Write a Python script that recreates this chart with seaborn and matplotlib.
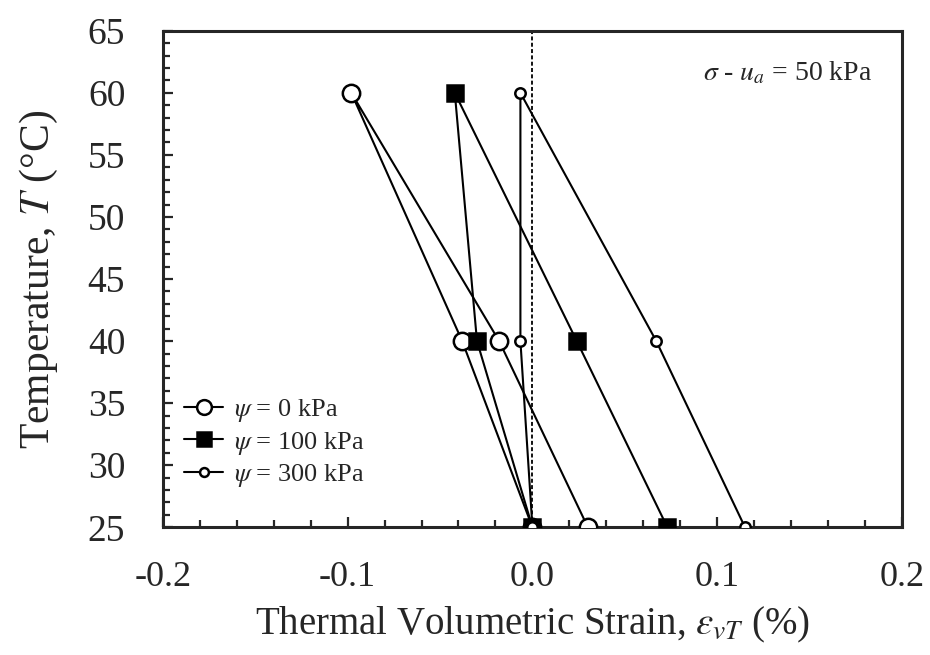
import pandas as pd
import numpy as np
import matplotlib
matplotlib.use("Agg")
import matplotlib.pyplot as plt
import seaborn as sns
from matplotlib.ticker import MultipleLocator, FormatStrFormatter

# Data: heating 25 -> 40 -> 60, then cooling 60 -> 40 -> 25
temp_path = [25, 40, 60, 40, 25]
strain_psi0 = [0.000, -0.038, -0.098, -0.018, 0.030]
strain_psi100 = [0.000, -0.030, -0.042, 0.024, 0.073]
strain_psi300 = [0.000, -0.0065, -0.0065, 0.067, 0.115]
series_labels = [r"$\psi$ = 0 kPa", r"$\psi$ = 100 kPa", r"$\psi$ = 300 kPa"]

sns.set_style("ticks")
plt.rcParams["font.family"] = ["Liberation Serif", "DejaVu Serif"]
plt.rcParams["mathtext.fontset"] = "stix"
plt.rcParams["axes.unicode_minus"] = False

fig = plt.figure(figsize=(9.3, 6.55), dpi=100)
ax = fig.add_axes([0.175, 0.195, 0.795, 0.758])

# dashed zero line
ax.axvline(0, color="black", lw=1.3, ls=(0, (2.2, 1.3)), zorder=1)

styles = [
    dict(marker="o", markersize=12.5, markerfacecolor="white"),
    dict(marker="s", markersize=11.5, markerfacecolor="black"),
    dict(marker="o", markersize=7.5, markerfacecolor="white"),
]
all_strain = [strain_psi0, strain_psi100, strain_psi300]
for i, (strain, label, st) in enumerate(zip(all_strain, series_labels, styles)):
    df = pd.DataFrame({"strain": strain, "temp": temp_path})
    sns.lineplot(data=df, x="strain", y="temp", sort=False, estimator=None,
                 color="black", lw=1.5, markeredgecolor="black",
                 markeredgewidth=1.8, label=label, ax=ax, zorder=3 + i, **st)

ax.set_xlim(-0.2, 0.2)
ax.set_ylim(25, 65)
ax.xaxis.set_major_locator(MultipleLocator(0.1))
ax.xaxis.set_minor_locator(MultipleLocator(0.02))
ax.xaxis.set_major_formatter(FormatStrFormatter("%.1f"))
ax.yaxis.set_major_locator(MultipleLocator(5))
ax.yaxis.set_minor_locator(MultipleLocator(1))
ax.tick_params(which="both", direction="in", top=False, right=False, width=1.6)
ax.tick_params(which="major", length=7)
ax.tick_params(which="minor", length=5)
ax.tick_params(axis="x", which="major", labelsize=26, pad=24)
ax.tick_params(axis="y", which="major", labelsize=27, pad=27)
for sp in ax.spines.values():
    sp.set_linewidth(2.2)
    sp.set_visible(True)

ax.set_xlabel(r"Thermal Volumetric Strain, $\varepsilon_{vT}$ (%)", fontsize=28, labelpad=8)
ax.set_ylabel(r"Temperature, $T$ (°C)", fontsize=30, labelpad=20)

ax.text(0.959, 0.915, r"$\sigma$ - $u_a$ = 50 kPa", transform=ax.transAxes,
        ha="right", va="center", fontsize=20)

leg = ax.legend(loc="lower left", bbox_to_anchor=(0.0, 0.035), frameon=False,
                fontsize=19, handlelength=1.5, handletextpad=0.4,
                labelspacing=0.2, borderaxespad=0.4)
for h in leg.legend_handles:
    h.set_markersize(h.get_markersize() * 0.85)

fig.savefig("out.png", dpi=100)
